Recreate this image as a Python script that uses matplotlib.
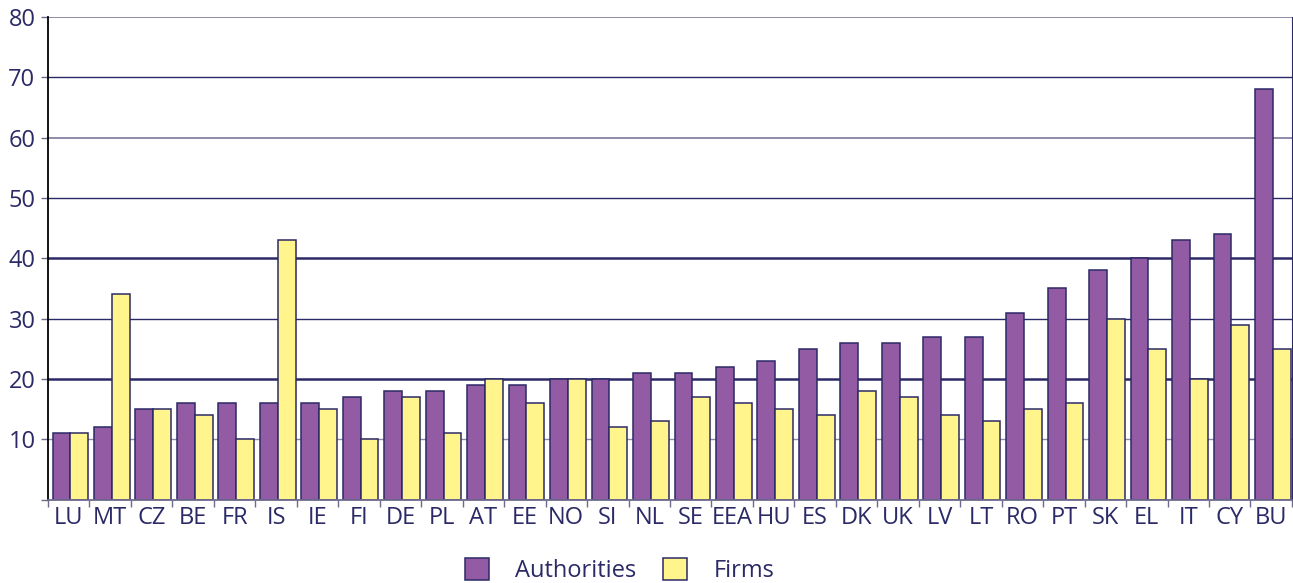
import numpy as np
import matplotlib
matplotlib.use("Agg")
import matplotlib.pyplot as plt

countries = ["LU", "MT", "CZ", "BE", "FR", "IS", "IE", "FI", "DE", "PL",
             "AT", "EE", "NO", "SI", "NL", "SE", "EEA", "HU", "ES", "DK",
             "UK", "LV", "LT", "RO", "PT", "SK", "EL", "IT", "CY", "BU"]
authorities = [11, 12, 15, 16, 16, 16, 16, 17, 18, 18,
               19, 19, 20, 20, 21, 21, 22, 23, 25, 26,
               26, 27, 27, 31, 35, 38, 40, 43, 44, 68]
firms = [11, 34, 15, 14, 10, 43, 15, 10, 17, 11,
         20, 16, 20, 12, 13, 17, 16, 15, 14, 18,
         17, 14, 13, 15, 16, 30, 25, 20, 29, 25]
yticks = [10, 20, 30, 40, 50, 60, 70, 80]

navy = "#2b2966"
purple = "#935ba3"
yellow = "#fff58c"

plt.rcParams['font.family'] = ['Open Sans', 'DejaVu Sans']

fig = plt.figure(figsize=(12.93, 5.83), dpi=100)
ax = fig.add_axes([0.0371, 0.1432, 0.9621, 0.8276])

# gridlines (colours/weights as they appear in the original)
grid_style = {10: ("#8f8aa8", 1.0), 20: (navy, 1.8), 30: (navy, 1.0),
              40: (navy, 1.8), 50: (navy, 1.0), 60: ("#8f8aa8", 1.4),
              70: (navy, 1.0), 80: ("#8f8aa8", 1.4)}
for v, (c, lw) in grid_style.items():
    ax.axhline(v, color=c, lw=lw, zorder=0)

x = np.arange(len(countries))
w = 0.43
ax.bar(x - w / 2 + 0.04, authorities, w, color=purple, edgecolor=navy, lw=1.1,
       label="Authorities", zorder=2)
ax.bar(x + w / 2 + 0.04, firms, w, color=yellow, edgecolor=navy, lw=1.1,
       label="Firms", zorder=2)

ax.set_xlim(-0.5, len(countries) - 0.5)
ax.set_ylim(0, 80)

ax.spines['top'].set_visible(False)
ax.spines['right'].set_color(navy)
ax.spines['left'].set_color('black')
ax.spines['left'].set_linewidth(1.3)
ax.spines['bottom'].set_color('#6e6a8c')
ax.spines['bottom'].set_linewidth(1.3)

ax.set_yticks([0] + yticks)
ax.set_yticklabels([""] + [str(v) for v in yticks])
ax.tick_params(axis='y', direction='out', length=5, width=1, color='#6e6a8c',
               labelsize=17, labelcolor=navy, pad=4)

ax.set_xticks(x)
ax.set_xticklabels(countries)
ax.tick_params(axis='x', which='major', length=0, labelsize=17,
               labelcolor=navy, pad=5)
ax.set_xticks(np.arange(len(countries) + 1) - 0.5, minor=True)
ax.tick_params(axis='x', which='minor', direction='out', length=5, width=1,
               color='#6e6a8c')

fig.legend(loc='upper center', bbox_to_anchor=(0.479, 0.043), ncol=2,
           frameon=False, fontsize=17, labelcolor=navy,
           handlelength=1.05, handleheight=1.05, handletextpad=1.1,
           columnspacing=1.1, borderaxespad=0, borderpad=0)

fig.savefig("out.png", dpi=100)
